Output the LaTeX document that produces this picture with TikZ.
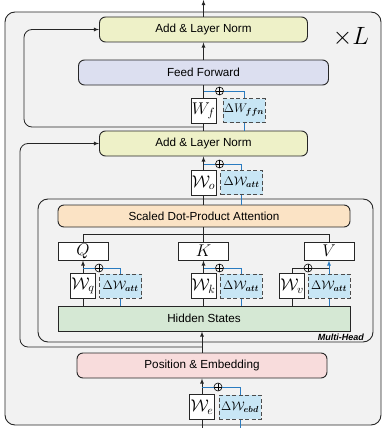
\RequirePackage{fix-cm}
\documentclass[tikz,border=0pt]{standalone}
\usepackage{fontspec}
\setsansfont{Liberation Sans}
\usepackage{bm}
\usetikzlibrary{shapes.geometric, arrows}
\definecolor{outercol}{HTML}{F2F2F2}
\definecolor{normcol}{HTML}{EEF1C8}
\definecolor{ffncol}{HTML}{DCDFF0}
\definecolor{attcol}{HTML}{FBE3C5}
\definecolor{hidcol}{HTML}{D5E8D4}
\definecolor{embcol}{HTML}{F8DCDC}
\definecolor{deltacol}{HTML}{C8E6F5}
\definecolor{loracol}{HTML}{2A7BC0}
\tikzstyle{block} = [rectangle, 
rounded corners=6pt, 
minimum height=25pt, 
text centered, 
inner sep=0pt, 
draw=black!85, 
line width=0.9pt, 
font=\sffamily\fontsize{11.7}{14}\selectfont]
\tikzstyle{addnorm} = [block, minimum width=208pt, fill=normcol]
\tikzstyle{ffn} = [block, minimum width=250pt, fill=ffncol]
\tikzstyle{attn} = [block, minimum width=292pt, minimum height=22pt, fill=attcol]
\tikzstyle{hidden} = [block, rounded corners=0pt, minimum width=292pt, fill=hidcol]
\tikzstyle{embed} = [block, minimum width=250pt, fill=embcol]
\tikzstyle{qkv} = [rectangle, 
minimum width=50pt, 
minimum height=18pt, 
inner sep=0pt, 
draw=black!85, 
line width=0.9pt, 
fill=white, 
font=\fontsize{17}{19}\selectfont]
\tikzstyle{weight} = [rectangle, 
minimum width=25pt, 
minimum height=25pt, 
inner sep=0pt, 
draw=black!85, 
line width=0.9pt, 
fill=white, 
font=\fontsize{17}{19}\selectfont]
\tikzstyle{delta} = [rectangle, 
minimum width=42pt, 
minimum height=24pt, 
inner sep=0pt, 
draw=black!70, 
dash pattern=on 4pt off 2.5pt, 
line width=1pt, 
fill=deltacol, 
font=\fontsize{12.5}{15}\selectfont]
\tikzstyle{oplus} = [circle, draw=black, line width=0.6pt, fill=outercol, 
inner sep=0pt, minimum size=8pt, 
path picture={\draw [line width=0.6pt] (path picture bounding box.north) -- (path picture bounding box.south) 
(path picture bounding box.west) -- (path picture bounding box.east);}]
\tikzstyle{line} = [line width=0.8pt, draw=black!85]
\tikzstyle{arrow} = [line, ->, >=latex]
\tikzstyle{blueline} = [line width=0.8pt, draw=loracol]
\tikzstyle{bluearrow} = [blueline, ->, >=latex]

\begin{document}
\begin{tikzpicture}[x=1pt, y=-1pt]
	\useasboundingbox (0,0) rectangle (386,428);
	\node (layer) [block, rounded corners=10pt, fill=outercol, minimum width=376pt, minimum height=413pt] at (193,218.5) {};
	\node (times_l) at (351,37) {\fontsize{25}{28}\selectfont$\times L$};

	% feed forward half
	\node (add_top) [addnorm] at (203.5,29.5) {Add \& Layer Norm};
	\node (ffn_block) [ffn] at (203.5,72.5) {Feed Forward};
	\node (w_f) [weight] at (203.5,111) {$W_f$};
	\node (delta_f) [delta] at (244,110.5) {$\Delta W_{\bm{ffn}}$};
	\node (plus_f) [oplus] at (219.5,91) {};

	% attention half
	\node (add_mid) [addnorm] at (203.5,143.5) {Add \& Layer Norm};
	\node (w_o) [weight] at (203.5,182.5) {$\mathcal{W}_o$};
	\node (delta_o) [delta] at (241.5,182.5) {$\Delta\mathcal{W}_{\bm{att}}$};
	\node (plus_o) [oplus] at (219.5,164) {};

	\node (multihead) [block, rounded corners=10pt, minimum width=335pt, minimum height=143pt] at (205.5,270.5) {};
	\node (mh_label) [anchor=south east, inner sep=0pt, font=\sffamily\bfseries\itshape\fontsize{9}{10}\selectfont] at (364,341) {Multi-Head};

	\node (attn_block) [attn] at (204,216) {Scaled Dot-Product Attention};
	\node (q_box) [qkv] at (83,251) {$Q$};
	\node (k_box) [qkv] at (203.5,251) {$K$};
	\node (v_box) [qkv] at (329,251) {$V$};

	\node (w_q) [weight] at (83,286) {$\mathcal{W}_q$};
	\node (delta_q) [delta] at (120.5,286) {$\Delta\mathcal{W}_{\bm{att}}$};
	\node (plus_q) [oplus] at (99,268) {};
	\node (w_k) [weight] at (203.5,286) {$\mathcal{W}_k$};
	\node (delta_k) [delta] at (241,286) {$\Delta\mathcal{W}_{\bm{att}}$};
	\node (plus_k) [oplus] at (219.5,268) {};
	\node (w_v) [weight] at (292,286) {$\mathcal{W}_v$};
	\node (delta_v) [delta] at (329,286) {$\Delta\mathcal{W}_{\bm{att}}$};
	\node (plus_v) [oplus] at (308,268) {};

	\node (hidden_states) [hidden] at (204,318.5) {Hidden States};

	% embedding
	\node (pos_embed) [embed] at (202,365.5) {Position \& Embedding};
	\node (w_e) [weight] at (202,407) {$\mathcal{W}_e$};
	\node (delta_e) [delta] at (240,407) {$\Delta\mathcal{W}_{\bm{ebd}}$};
	\node (plus_e) [oplus] at (218,387) {};

	\coordinate (out_top) at (203.5,0);
	\coordinate (in_w) at (202,428);
	\coordinate (in_d) at (240,428);
	\coordinate (split_f) at (203.5,127);
	\coordinate (loop_f) at (24,127);
	\coordinate (split_e) at (202,347);
	\coordinate (loop_e) at (20,347);

	\draw [arrow] (add_top.north) -- (out_top);
	\draw [arrow] (ffn_block.north) -- (add_top.south);
	\draw [line] (w_f.north) -- (ffn_block.south);
	\draw [blueline] (delta_f.north) |- (plus_f.east);
	\draw [blueline] (plus_f.west) -- (plus_f.west -| w_f.north);
	\draw [line] (add_mid.north) -- (w_f.south);
	\draw [blueline] (add_mid.north -| delta_f.south) -- (delta_f.south);
	\draw [arrow, rounded corners=8pt] (split_f) -- (loop_f) |- (add_top.west);

	\draw [arrow] (w_o.north) -- (add_mid.south);
	\draw [blueline] (delta_o.north) |- (plus_o.east);
	\draw [blueline] (plus_o.west) -- (plus_o.west -| w_o.north);
	\draw [line] (attn_block.north -| w_o.south) -- (w_o.south);
	\draw [blueline] (attn_block.north -| delta_o.south) -- (delta_o.south);

	\draw [line] (attn_block.south -| k_box.north) -- (k_box.north);
	\draw [line] (q_box.north) |- ([yshift=7pt]k_box.north) -| (v_box.north);

	\draw [arrow] (w_q.north) -- (q_box.south);
	\draw [blueline] (delta_q.north) |- (plus_q.east);
	\draw [blueline] (plus_q.west) -- (plus_q.west -| w_q.north);
	\draw [arrow] (w_k.north) -- (k_box.south);
	\draw [blueline] (delta_k.north) |- (plus_k.east);
	\draw [blueline] (plus_k.west) -- (plus_k.west -| w_k.north);
	\draw [line] (w_v.north) |- (plus_v.west);
	\draw [line] (plus_v.east) -- (plus_v.east -| delta_v.north);
	\draw [bluearrow] (delta_v.north) -- (v_box.south);

	\draw [line] (hidden_states.north -| w_q.south) -- (w_q.south);
	\draw [blueline] (hidden_states.north -| delta_q.south) -- (delta_q.south);
	\draw [line] (hidden_states.north -| w_k.south) -- (w_k.south);
	\draw [blueline] (hidden_states.north -| delta_k.south) -- (delta_k.south);
	\draw [line] (hidden_states.north -| w_v.south) -- (w_v.south);
	\draw [blueline] (hidden_states.north -| delta_v.south) -- (delta_v.south);

	\draw [arrow] (pos_embed.north) -- (pos_embed.north |- hidden_states.south);
	\draw [arrow, rounded corners=8pt] (split_e) -- (loop_e) |- (add_mid.west);

	\draw [arrow] (w_e.north) -- (pos_embed.south);
	\draw [blueline] (delta_e.north) |- (plus_e.east);
	\draw [blueline] (plus_e.west) -- (plus_e.west -| w_e.north);
	\draw [line] (in_w) -- (w_e.south);
	\draw [blueline] (in_d) -- (delta_e.south);
\end{tikzpicture}
\end{document}
